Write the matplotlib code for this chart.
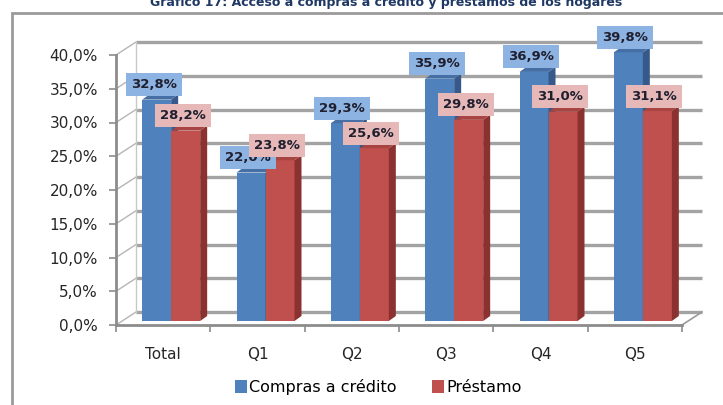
import numpy as np
import matplotlib.pyplot as plt
from matplotlib.patches import Polygon, Rectangle, Patch

plt.rcParams['font.family'] = ['DejaVu Sans']

categories = ["Total", "Q1", "Q2", "Q3", "Q4", "Q5"]
compras_credito = [32.8, 22.0, 29.3, 35.9, 36.9, 39.8]
prestamo = [28.2, 23.8, 25.6, 29.8, 31.0, 31.1]
series_names = ["Compras a crédito", "Préstamo"]
y_ticks = np.arange(0, 45, 5)

W, H = 723, 405
fig = plt.figure(figsize=(W / 100, H / 100), dpi=100)
fig.patch.set_facecolor("white")

# front plane of the 3D box, in figure pixels
left, right, base, top = 116, 682, 325, 55
ax = fig.add_axes([left / W, (H - base) / H, (right - left) / W, (base - top) / H])
ax.set_xlim(-0.5, len(categories) - 0.5)
ax.set_ylim(0, 40)
ax.patch.set_alpha(0)

px_x = len(categories) / (right - left)
px_y = 40 / (base - top)

# depth of the walls and of the columns
wall_dx, wall_dy = 20 * px_x, 13 * px_y
bar_dx, bar_dy = 8 * px_x, 4 * px_y
side_dx, side_dy = 7 * px_x, 5 * px_y
w = 29 * px_x

grid_col = "#a3a3a3"
x_end = len(categories) - 0.5
for t in y_ticks:
    ax.plot([-0.5 + wall_dx, x_end + wall_dx], [t + wall_dy] * 2,
            color=grid_col, lw=2.4, zorder=1, clip_on=False, solid_capstyle="butt")
    ax.plot([-0.5, -0.5 + wall_dx], [t, t + wall_dy],
            color="#b5b5b5", lw=1, zorder=1, clip_on=False)
ax.plot([-0.5 + wall_dx] * 2, [wall_dy, 40 + wall_dy], color="#c8c8c8", lw=1,
        zorder=1, clip_on=False)
ax.plot([x_end, x_end + wall_dx], [0, wall_dy], color="#9a9a9a", lw=1.2,
        zorder=1, clip_on=False)

x = np.arange(len(categories))
styles = [
    (compras_credito, x + bar_dx - w, "#4f81bd", "#36598a", "#456fa5", "#8db3e2", 2),
    (prestamo, x + bar_dx, "#c0504d", "#8b3230", "#a84543", "#e6b9b8", 3),
]
for vals, x0s, front, side, cap, label_bg, z in styles:
    ax.bar(x0s, vals, width=w, bottom=bar_dy, align="edge", color=front,
           zorder=z, clip_on=False)
    for x0, v in zip(x0s, vals):
        top_y = bar_dy + v
        x1 = x0 + w
        ax.add_patch(Polygon([(x1, bar_dy), (x1, top_y), (x1 + side_dx, top_y + side_dy),
                              (x1 + side_dx, bar_dy + side_dy)],
                             closed=True, fc=side, ec="none", zorder=z, clip_on=False))
        ax.add_patch(Polygon([(x0, top_y), (x1, top_y), (x1 + side_dx, top_y + side_dy),
                              (x0 + side_dx, top_y + side_dy)],
                             closed=True, fc=cap, ec="none", zorder=z, clip_on=False))
        ax.annotate(f"{v:.1f}%".replace(".", ","), xy=(x0 + w / 2, top_y),
                    xytext=(-3, 15), textcoords="offset pixels",
                    ha="center", va="center", fontsize=9.5, fontweight="bold",
                    color="#1f1f2f", zorder=6, annotation_clip=False,
                    bbox=dict(boxstyle="square,pad=0.38", fc=label_bg, ec="none"))

# axes: front vertical axis and floor edge
for s in ["top", "right"]:
    ax.spines[s].set_visible(False)
for s in ["left", "bottom"]:
    ax.spines[s].set_color("#8c8c8c")
    ax.spines[s].set_linewidth(2)
ax.set_yticks(y_ticks)
ax.set_yticklabels([f"{t:.1f}%".replace(".", ",") for t in y_ticks])
ax.tick_params(axis="y", length=5, width=1.2, color="#8c8c8c", pad=8,
               labelsize=11, labelcolor="#262626")
ax.set_xticks(np.arange(-0.5, len(categories), 1))
ax.set_xticklabels([])
ax.set_xticks(x, minor=True)
ax.set_xticklabels(categories, minor=True)
ax.tick_params(axis="x", which="major", length=5, width=1.2, color="#8c8c8c")
ax.tick_params(axis="x", which="minor", length=0, pad=16, labelsize=11,
               labelcolor="#262626")

handles = [Patch(fc="#4f81bd", ec="none"), Patch(fc="#c0504d", ec="none")]
fig.legend(handles, series_names, loc="center", bbox_to_anchor=(378 / W, (H - 387) / H),
           ncol=2, frameon=False, fontsize=11.5, handlelength=0.8, handleheight=0.8,
           handletextpad=0.1, columnspacing=2.2)

fig.add_artist(Rectangle((12 / W, -0.1), 1.0, (H - 13) / H + 0.1,
                         transform=fig.transFigure, fill=False, ec="#9a9a9a", lw=2))
fig.text(386 / W, 1 - 6 / H,
         "Gráfico 17: Acceso a compras a crédito y préstamos de los hogares",
         ha="center", va="baseline", fontsize=9, fontweight="bold", color="#1f3864")

fig.savefig("out.png", dpi=100)
